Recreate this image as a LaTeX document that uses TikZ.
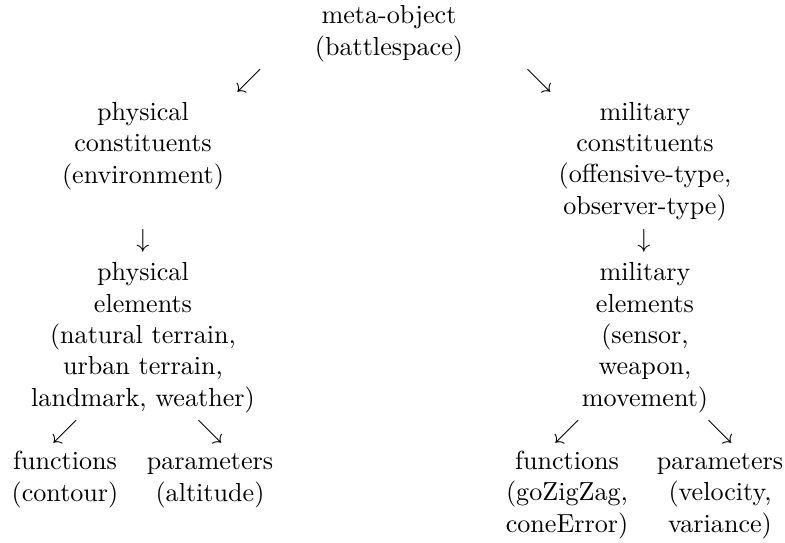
\documentclass[tikz,border=0pt]{standalone}
\usepackage{amssymb}
\begin{document}
\begin{tikzpicture}[x=0.383pt,y=-0.383pt,
  lbl/.style={inner sep=0pt,outer sep=0pt,align=center,anchor=base},
  arr/.style={inner sep=0pt,outer sep=0pt,anchor=base}]
\useasboundingbox (0,0) rectangle (785,542);
% anchor=base of a multi-line node lies on its last line
\node[lbl] (top)  at (389,55)  {meta-object\\(battlespace)};
\node[arr] (a1)   at (249,87)  {$\swarrow$};
\node[arr] (a2)   at (539,87)  {$\searrow$};
\node[lbl] (physC) at (143,183) {physical\\constituents\\(environment)};
\node[lbl] (milC)  at (645,214) {military\\constituents\\(offensive-type,\\observer-type)};
\node[arr] (d1)   at (143,247) {$\downarrow$};
\node[arr] (d2)   at (644,247) {$\downarrow$};
\node[lbl] (physE) at (143,406) {physical\\elements\\(natural terrain,\\urban terrain,\\landmark, weather)};
\node[lbl] (milE)  at (645,406) {military\\elements\\(sensor,\\weapon,\\movement)};
\node[arr] (b1)   at (65,438)  {$\swarrow$};
\node[arr] (b2)   at (210,438) {$\searrow$};
\node[arr] (b3)   at (567,438) {$\swarrow$};
\node[arr] (b4)   at (720,438) {$\searrow$};
\node[lbl] (f1)   at (65,501)  {functions\\(contour)};
\node[lbl] (p1)   at (210,501) {parameters\\(altitude)};
\node[lbl] (f2)   at (567,532) {functions\\(goZigZag,\\coneError)};
\node[lbl] (p2)   at (720,532) {parameters\\(velocity,\\variance)};
\end{tikzpicture}
\end{document}
